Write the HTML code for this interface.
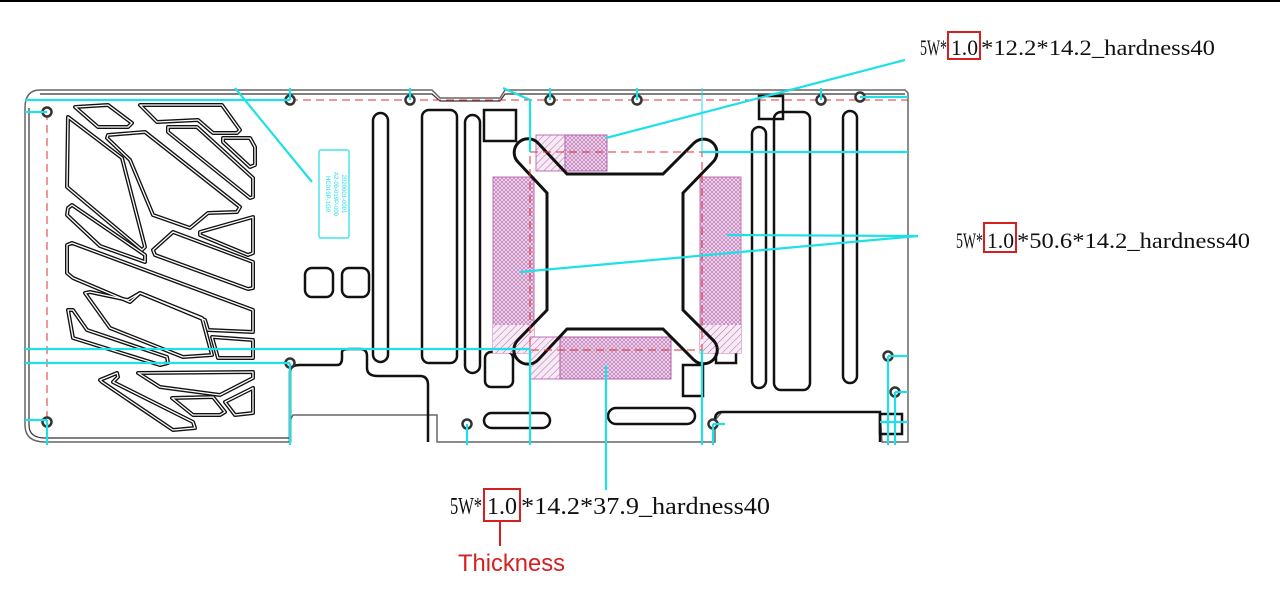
<!DOCTYPE html>
<html><head><meta charset="utf-8"><style>
html,body{margin:0;padding:0;background:#fff;width:1280px;height:602px;overflow:hidden}
svg{display:block}
</style></head><body>
<svg width="1280" height="602" viewBox="0 0 1280 602" xmlns="http://www.w3.org/2000/svg">
<defs>
<pattern id="h1" width="5" height="5" patternUnits="userSpaceOnUse" patternTransform="rotate(45)">
<rect width="5" height="5" fill="#f6eaf4"/><line x1="0" y1="0" x2="0" y2="5" stroke="#b868b0" stroke-width="1"/></pattern>
<pattern id="h2" width="4" height="4" patternUnits="userSpaceOnUse">
<rect width="4" height="4" fill="#eed8eb"/><path d="M0,4 L4,0 M0,0 L4,4" stroke="#b868b0" stroke-width="0.6"/></pattern>
</defs>
<line x1="0" y1="1" x2="1280" y2="1" stroke="#000" stroke-width="2"/>

<!-- board outline -->
<path d="M40,90 L432,90 L440,98 L500,98 L505,90 L905,90 L908,93 L908,442 L882,442 L880,412 L722,412 L715,420 L715,442 L437,442 L437,415 L293,415 L290,420 L290,442 L45,442 Q25,442 25,425 L25,108 Q25,90 40,90 Z" fill="#fff" stroke="#666" stroke-width="1.5"/>
<path d="M40,94 L432,94 L440,101 L500,101 L505,94 L905,94 M29,108 L29,425 Q29,438 45,438 L290,438" fill="none" stroke="#333" stroke-width="1.2"/>

<!-- left vent shapes -->
<g id="vents" fill="none" stroke-linejoin="round">
<g stroke="#111" stroke-width="4">
<polygon points="75,107 108,105 132,123 128,127 98,127"/>
<polygon points="140,105 222,105 240,130 237,133 213,133 198,120 157,122"/>
<polygon points="223,138 250,138 255,147 255,165 250,167 223,142"/>
<polygon points="168,127 197,127 253,178 253,197 250,198 168,132"/>
<polygon points="68,117 122,158 145,247 142,250 67,187"/>
<polygon points="108,135 145,132 240,207 237,212 208,213 190,228 153,215 130,160 107,138"/>
<polygon points="68,208 72,205 145,255 145,262 100,246 67,215"/>
<polygon points="200,232 253,217 253,253 248,255 200,235"/>
<polygon points="153,250 173,232 253,262 253,288 248,289 155,255"/>
<polygon points="67,245 72,243 253,310 253,332 208,330 205,320 140,293 130,302 73,278 67,273"/>
<polygon points="85,293 90,292 128,300 140,293 202,318 212,355 183,357 110,328"/>
<polygon points="212,337 253,340 253,358 218,358"/>
<polygon points="68,310 73,310 87,330 167,357 168,363 160,365 73,338"/>
<polygon points="100,380 117,373 118,377 113,382 193,422 195,428 173,430 102,382"/>
<polygon points="138,373 253,372 253,378 220,395 160,387"/>
<polygon points="172,398 213,397 225,412 220,415 193,415"/>
<polygon points="225,402 253,388 253,413 235,415"/>
</g>
<g stroke="#fff" stroke-width="1.3">
<polygon points="75,107 108,105 132,123 128,127 98,127"/>
<polygon points="140,105 222,105 240,130 237,133 213,133 198,120 157,122"/>
<polygon points="223,138 250,138 255,147 255,165 250,167 223,142"/>
<polygon points="168,127 197,127 253,178 253,197 250,198 168,132"/>
<polygon points="68,117 122,158 145,247 142,250 67,187"/>
<polygon points="108,135 145,132 240,207 237,212 208,213 190,228 153,215 130,160 107,138"/>
<polygon points="68,208 72,205 145,255 145,262 100,246 67,215"/>
<polygon points="200,232 253,217 253,253 248,255 200,235"/>
<polygon points="153,250 173,232 253,262 253,288 248,289 155,255"/>
<polygon points="67,245 72,243 253,310 253,332 208,330 205,320 140,293 130,302 73,278 67,273"/>
<polygon points="85,293 90,292 128,300 140,293 202,318 212,355 183,357 110,328"/>
<polygon points="212,337 253,340 253,358 218,358"/>
<polygon points="68,310 73,310 87,330 167,357 168,363 160,365 73,338"/>
<polygon points="100,380 117,373 118,377 113,382 193,422 195,428 173,430 102,382"/>
<polygon points="138,373 253,372 253,378 220,395 160,387"/>
<polygon points="172,398 213,397 225,412 220,415 193,415"/>
<polygon points="225,402 253,388 253,413 235,415"/>
</g>
</g>

<!-- slots and squares -->
<g fill="none" stroke="#111" stroke-width="2.5">
<rect x="373" y="113" width="15" height="249" rx="7.5"/>
<rect x="422" y="110" width="35" height="253" rx="7"/>
<rect x="465" y="115" width="15" height="258" rx="7.5"/>
<rect x="752" y="127" width="14" height="261" rx="7"/>
<rect x="774" y="112" width="36" height="278" rx="7"/>
<rect x="843" y="111" width="14" height="272" rx="7"/>
<rect x="484" y="110" width="32" height="31"/>
<rect x="759" y="96" width="24" height="23"/>
<rect x="683" y="365" width="20" height="31"/>
<rect x="716" y="331" width="20" height="32"/>
<rect x="485" y="352" width="28" height="35" rx="6"/>
<rect x="484" y="413" width="66" height="15" rx="7.5"/>
<rect x="608" y="408" width="87" height="16" rx="8"/>
<rect x="305" y="268" width="28" height="29" rx="7"/>
<rect x="342" y="268" width="27" height="29" rx="7"/>
<path d="M290,442 L290,372 Q290,365 300,365 L337,365 Q342,365 342,358 L342,352 Q342,349 350,349 L360,349 Q367,349 367,356 L367,368 Q367,376 378,376 L420,376 Q428,376 428,385 L428,442"/>
<path d="M880,442 L880,412 L722,412 Q715,412 715,420"/>
<rect x="880" y="414" width="22" height="20"/>
</g>

<!-- pads -->
<rect x="536" y="135" width="71" height="36" fill="url(#h1)" stroke="#c070b8" stroke-width="1"/>
<rect x="565" y="135" width="42" height="36" fill="url(#h2)" stroke="#b060a8" stroke-width="1"/>
<rect x="493" y="177" width="41" height="176" fill="url(#h2)" stroke="#c070b8" stroke-width="1"/>
<rect x="493" y="325" width="41" height="28" fill="url(#h1)"/>
<rect x="700" y="177" width="41" height="176" fill="url(#h2)" stroke="#c070b8" stroke-width="1"/>
<rect x="700" y="325" width="41" height="28" fill="url(#h1)"/>
<rect x="530" y="337" width="141" height="42" fill="url(#h1)" stroke="#c070b8" stroke-width="1"/>
<rect x="560" y="337" width="111" height="42" fill="url(#h2)" stroke="#b060a8" stroke-width="1"/>

<!-- bracket -->
<path d="M538,143 L567,174 L663,174 L694,143 A12,12 0 0 1 713,162 L683,193 L683,310 L713,340 A12,12 0 0 1 694,360 L663,329 L567,329 L538,360 A12,12 0 0 1 518,340 L547,310 L547,193 L518,162 A12,12 0 0 1 538,143 Z" fill="none" stroke="#111" stroke-width="3"/>

<!-- red dashed -->
<g fill="none" stroke="#e03030" stroke-width="1" stroke-dasharray="8,5">
<line x1="290" y1="100" x2="908" y2="100"/>
<line x1="47" y1="112" x2="47" y2="422"/>
<rect x="530" y="152" width="172" height="198"/>
</g>

<!-- holes -->
<g fill="#fff" stroke="#333" stroke-width="2.5">
<circle cx="47" cy="112" r="4.5"/><circle cx="290" cy="100" r="4.5"/><circle cx="410" cy="100" r="4.5"/>
<circle cx="550" cy="100" r="4.5"/><circle cx="637" cy="100" r="4.5"/><circle cx="821" cy="100" r="4.5"/>
<circle cx="860" cy="97" r="4.5"/><circle cx="290" cy="363" r="4.5"/><circle cx="47" cy="422" r="4.5"/>
<circle cx="467" cy="424" r="4.5"/><circle cx="713" cy="424" r="4.5"/><circle cx="888" cy="356" r="4.5"/>
<circle cx="895" cy="392" r="4.5"/>
</g>

<!-- cyan lines -->
<g stroke="#1ee0e6" stroke-width="2.2" fill="none">
<line x1="606" y1="138" x2="905" y2="60"/>
<line x1="918" y1="236" x2="727" y2="235"/>
<line x1="918" y1="236" x2="520" y2="272"/>
<line x1="606" y1="365" x2="606" y2="490"/>
<line x1="25" y1="100" x2="290" y2="100"/>
<line x1="25" y1="112" x2="47" y2="112"/>
<line x1="235" y1="88" x2="312" y2="182"/>
<line x1="25" y1="349" x2="530" y2="349"/>
<line x1="25" y1="363" x2="290" y2="363"/>
<line x1="290" y1="363" x2="290" y2="445"/>
<line x1="25" y1="420" x2="47" y2="420"/>
<line x1="47" y1="420" x2="47" y2="445"/>
<line x1="290" y1="88" x2="290" y2="100"/>
<line x1="410" y1="88" x2="410" y2="100"/>
<line x1="550" y1="88" x2="550" y2="100"/>
<line x1="637" y1="88" x2="637" y2="100"/>
<line x1="821" y1="88" x2="821" y2="100"/>
<polyline points="503,88 530,100 530,152"/>
<line x1="530" y1="350" x2="530" y2="445"/>
<line x1="702" y1="350" x2="702" y2="445"/>
<line x1="702" y1="152" x2="908" y2="152"/>
<line x1="860" y1="97" x2="908" y2="97"/>
<line x1="888" y1="356" x2="908" y2="356"/>
<line x1="895" y1="392" x2="908" y2="392"/>
<line x1="888" y1="356" x2="888" y2="445"/>
<line x1="895" y1="392" x2="895" y2="445"/>
<line x1="880" y1="422" x2="908" y2="422"/>
<line x1="467" y1="424" x2="467" y2="445"/>
<line x1="713" y1="424" x2="725" y2="424"/>
<line x1="713" y1="424" x2="713" y2="445"/>
</g>
<line x1="702" y1="88" x2="702" y2="152" stroke="#1ee0e6" stroke-width="1"/>
<rect x="319" y="150" width="30" height="88" rx="2" fill="none" stroke="#1ee0e6" stroke-width="1.2"/>
<g font-family="Liberation Sans, sans-serif" font-size="6" fill="#1ee0e6">
<text transform="translate(326,194) rotate(90)" text-anchor="middle">HC019P-1G0</text>
<text transform="translate(334,194) rotate(90)" text-anchor="middle">A2-09-019P-000</text>
<text transform="translate(342,194) rotate(90)" text-anchor="middle">2020001-0001</text>
</g>

<!-- labels -->
<g font-family="Liberation Serif, serif" fill="#111" lengthAdjust="spacingAndGlyphs">
<text x="920" y="55" font-size="22" textLength="27" lengthAdjust="spacingAndGlyphs">5W*</text>
<text x="951" y="55" font-size="22" textLength="27" lengthAdjust="spacingAndGlyphs">1.0</text>
<text x="981" y="55" font-size="22" textLength="234" lengthAdjust="spacingAndGlyphs">*12.2*14.2_hardness40</text>
<text x="956" y="248" font-size="22" textLength="27" lengthAdjust="spacingAndGlyphs">5W*</text>
<text x="987" y="248" font-size="22" textLength="27" lengthAdjust="spacingAndGlyphs">1.0</text>
<text x="1017" y="248" font-size="22" textLength="233" lengthAdjust="spacingAndGlyphs">*50.6*14.2_hardness40</text>
<text x="450" y="514" font-size="24" textLength="32" lengthAdjust="spacingAndGlyphs">5W*</text>
<text x="487" y="514" font-size="24" textLength="30" lengthAdjust="spacingAndGlyphs">1.0</text>
<text x="521" y="514" font-size="24" textLength="249" lengthAdjust="spacingAndGlyphs">*14.2*37.9_hardness40</text>
</g>
<g fill="none" stroke="#d42020" stroke-width="2">
<rect x="948" y="32" width="32" height="27"/>
<rect x="984" y="223" width="32" height="29"/>
<rect x="484" y="489" width="36" height="32"/>
<line x1="500" y1="521" x2="500" y2="546"/>
</g>
<text x="458" y="571" font-family="Liberation Sans, sans-serif" font-size="24" fill="#d42020" textLength="107" lengthAdjust="spacingAndGlyphs">Thickness</text>
</svg>
</body></html>
